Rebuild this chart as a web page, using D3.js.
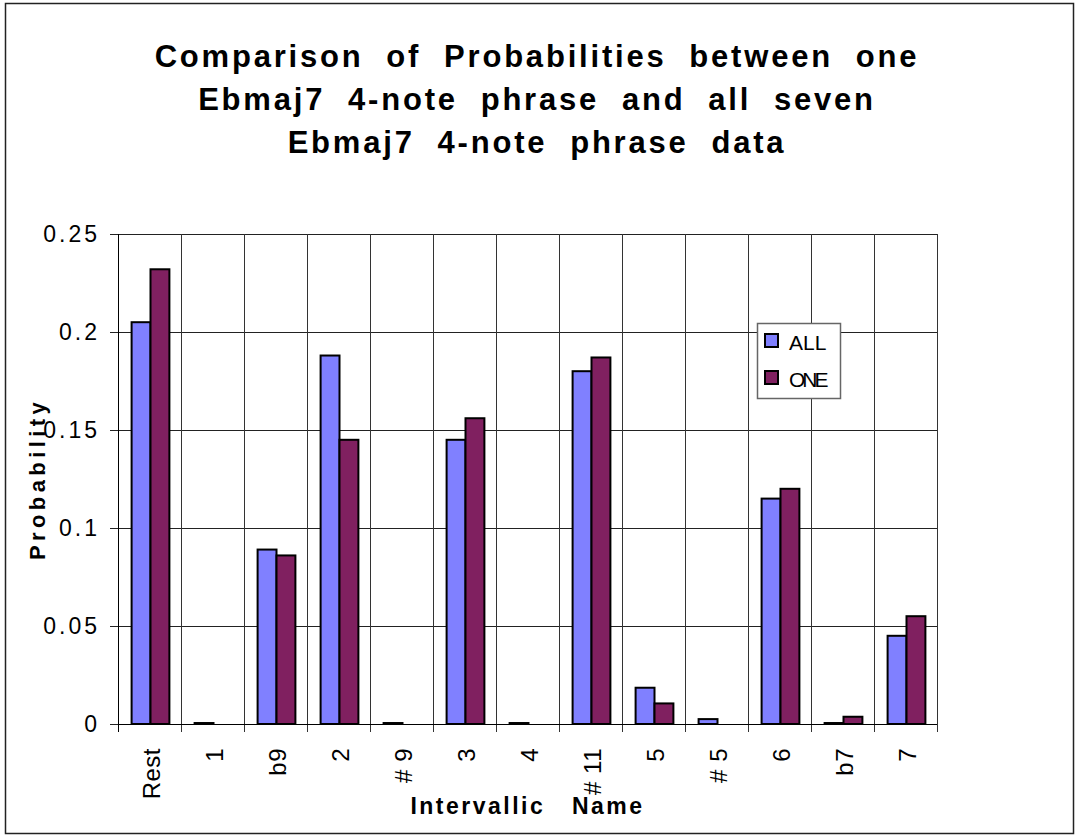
<!DOCTYPE html>
<html>
<head>
<meta charset="utf-8">
<script src="https://cdn.jsdelivr.net/npm/d3@7"></script>
<style>
  body { margin: 0; background: #fff; }
  text { font-family: "Liberation Sans", Arial, sans-serif; }
</style>
</head>
<body>
<div id="chart"></div>
<script>
// Data
var categories = ["Rest", "1", "b9", "2", "# 9", "3", "4", "# 11", "5", "# 5", "6", "b7", "7"];
var allValues = [0.205, 0.0005, 0.089, 0.188, 0.0005, 0.145, 0.0005, 0.180, 0.0185, 0.0025, 0.115, 0.0005, 0.045];
var oneValues = [0.232, 0, 0.086, 0.145, 0, 0.156, 0, 0.187, 0.0105, 0, 0.120, 0.0037, 0.055];
var seriesNames = ["ALL", "ONE"];
var yTicks = [0, 0.05, 0.1, 0.15, 0.2, 0.25];
var titleLines = ["Comparison  of  Probabilities  between  one", "Ebmaj7  4-note  phrase  and  all  seven", "Ebmaj7  4-note  phrase  data"];

var svgWidth = 1078;
var svgHeight = 840;
var margin = { top: 234, right: 141, bottom: 116, left: 118 };
var width = svgWidth - margin.left - margin.right;
var height = svgHeight - margin.top - margin.bottom;

var colors = { ALL: "#8080ff", ONE: "#802060" };

var data = categories.map(function(c, i) {
    return { cat: c, ALL: allValues[i], ONE: oneValues[i] };
});

var svg = d3.select("#chart").append("svg").attr("width", svgWidth).attr("height", svgHeight);

// outer frame
svg.append("rect")
    .attr("x", 5.5).attr("y", 3.5)
    .attr("width", 1068).attr("height", 830)
    .attr("fill", "none").attr("stroke", "#222").attr("stroke-width", 1.5);

// title
var title = svg.append("text")
    .attr("text-anchor", "middle")
    .attr("font-size", 31)
    .attr("font-weight", "bold")
    .attr("letter-spacing", 2.8);
titleLines.forEach(function(line, i) {
    title.append("tspan")
        .attr("x", 537)
        .attr("y", 67 + i * 43)
        .style("white-space", "pre")
        .text(line);
});

var chartGroup = svg.append("g").attr("transform", `translate(${margin.left}, ${margin.top})`);

var x0 = d3.scaleBand().domain(categories).range([0, width]).padding(0);
var x1 = d3.scaleBand().domain(seriesNames)
    .range([x0.bandwidth() * 0.2, x0.bandwidth() * 0.8]).padding(0);
var y = d3.scaleLinear().domain([0, 0.25]).range([height, 0]);

// horizontal grid
chartGroup.append("g")
    .selectAll("line")
    .data(yTicks)
    .enter()
    .append("line")
    .attr("x1", -8).attr("x2", width)
    .attr("y1", d => Math.round(y(d)) + 0.5)
    .attr("y2", d => Math.round(y(d)) + 0.5)
    .attr("stroke", "#222").attr("stroke-width", 1);

// vertical grid + x ticks
var vlines = categories.map((c, i) => i).concat([categories.length]);
chartGroup.append("g")
    .selectAll("line")
    .data(vlines)
    .enter()
    .append("line")
    .attr("x1", d => Math.round(d * x0.step()) + 0.5)
    .attr("x2", d => Math.round(d * x0.step()) + 0.5)
    .attr("y1", 0).attr("y2", height + 8)
    .attr("stroke", "#333").attr("stroke-width", 1);

// y axis
var leftAxis = d3.axisLeft(y).tickValues(yTicks).tickSize(0).tickPadding(18)
    .tickFormat(d => d === 0 ? "0" : String(+d.toFixed(2)));
var yAxis = chartGroup.append("g").call(leftAxis);
yAxis.select(".domain").remove();
yAxis.selectAll("text")
    .attr("font-size", 23)
    .attr("letter-spacing", 3)
    .attr("fill", "#000")
    .style("font-family", "'Liberation Sans', Arial, sans-serif");

// bars
var groups = chartGroup.selectAll(".cat")
    .data(data)
    .enter()
    .append("g")
    .attr("transform", d => `translate(${x0(d.cat)}, 0)`);

groups.selectAll("rect")
    .data(d => seriesNames.map(s => ({ key: s, value: d[s] })))
    .enter()
    .append("rect")
    .filter(d => d.value > 0)
    .attr("x", d => x1(d.key) + 1)
    .attr("y", d => y(d.value))
    .attr("width", x1.bandwidth())
    .attr("height", d => Math.max(0.1, height - y(d.value)))
    .attr("fill", d => colors[d.key])
    .attr("stroke", "#000")
    .attr("stroke-width", 2);

// x axis line
chartGroup.append("line")
    .attr("x1", 0).attr("x2", width)
    .attr("y1", height + 0.5).attr("y2", height + 0.5)
    .attr("stroke", "#000");
chartGroup.append("line")
    .attr("x1", 0.5).attr("x2", 0.5)
    .attr("y1", 0).attr("y2", height + 8)
    .attr("stroke", "#000");

// x tick labels
chartGroup.selectAll(".xlabel")
    .data(categories)
    .enter()
    .append("text")
    .attr("transform", d => `translate(${x0(d) + x0.bandwidth() / 2 + 10}, ${height + 24}) rotate(-90)`)
    .attr("text-anchor", "end")
    .attr("font-size", 24)
    .attr("letter-spacing", 0.5)
    .style("white-space", "pre")
    .text(d => d);

// axis titles
chartGroup.append("text")
    .attr("x", width / 2)
    .attr("y", height + 90)
    .attr("text-anchor", "middle")
    .attr("font-size", 23)
    .attr("font-weight", "bold")
    .attr("letter-spacing", 2.5)
    .style("white-space", "pre")
    .text("Intervallic   Name");

chartGroup.append("text")
    .attr("transform", `translate(${45 - margin.left}, ${height / 2}) rotate(-90)`)
    .attr("text-anchor", "middle")
    .attr("font-size", 22)
    .attr("font-weight", "bold")
    .attr("letter-spacing", 4.4)
    .text("Probability");

// legend
var legend = svg.append("g").attr("transform", "translate(757, 323)");
legend.append("rect")
    .attr("x", 0.5).attr("y", 0.5)
    .attr("width", 83).attr("height", 75)
    .attr("fill", "#fff").attr("stroke", "#666").attr("stroke-width", 1.5);
seriesNames.forEach(function(s, i) {
    legend.append("rect")
        .attr("x", 8).attr("y", 11 + i * 37)
        .attr("width", 13).attr("height", 13)
        .attr("fill", colors[s]).attr("stroke", "#000").attr("stroke-width", 2);
    legend.append("text")
        .attr("x", 32).attr("y", 27 + i * 37)
        .attr("font-size", 21)
        .attr("letter-spacing", s === "ONE" ? -3 : 0)
        .text(s);
});
</script>
</body>
</html>
